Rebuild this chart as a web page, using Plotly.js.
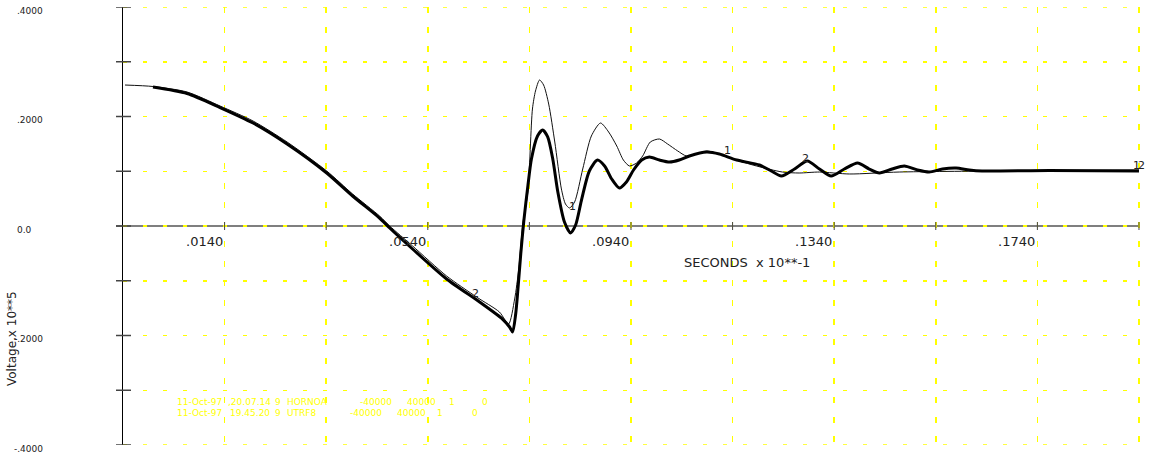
<!DOCTYPE html>
<html>
<head>
<meta charset="utf-8">
<script src="https://cdn.plot.ly/plotly-3.0.1.min.js"></script>
<style>html,body{margin:0;padding:0;background:#fff;}#chart{width:1149px;height:454px;}</style>
</head>
<body>
<div id="chart"></div>
<script>
// ---- data ----
const thinX = [-0.0056, -0.0001, 0.0066, 0.0131, 0.0196, 0.0263, 0.0341, 0.0392, 0.0445, 0.0465,
  0.0510, 0.0577, 0.0636, 0.0681, 0.0699, 0.0711, 0.0719, 0.0727, 0.0737, 0.0746,
  0.0752, 0.0760, 0.0768, 0.0778, 0.0790, 0.0803, 0.0811, 0.0819, 0.0829, 0.0845,
  0.0862, 0.0880, 0.0896, 0.0912, 0.0925, 0.0937, 0.0951, 0.0963, 0.0978, 0.0996,
  0.1012, 0.1032, 0.1049, 0.1069, 0.1089, 0.1114, 0.1140, 0.1187, 0.1238, 0.1271,
  0.1311, 0.1370, 0.1468, 0.1665, 0.1940];
const thinY = [0.2575, 0.2548, 0.2448, 0.2192, 0.1918, 0.1534, 0.1005, 0.0584, 0.0183, 0.0000,
  -0.0365, -0.0913, -0.1297, -0.1571, -0.1790, -0.1333, -0.0785, 0.0037, 0.0621, 0.2137,
  0.2466, 0.2667, 0.2575, 0.2228, 0.1534, 0.0676, 0.0402, 0.0329, 0.0438, 0.1041,
  0.1644, 0.1881, 0.1717, 0.1461, 0.1205, 0.1096, 0.1151, 0.1279, 0.1534, 0.1589,
  0.1498, 0.1370, 0.1279, 0.1315, 0.1370, 0.1315, 0.1224, 0.1096, 0.0986, 0.0968,
  0.0986, 0.0950, 0.0986, 0.1005, 0.1023];
const thickX = [-0.0001, 0.0066, 0.0131, 0.0196, 0.0263, 0.0341, 0.0392, 0.0445, 0.0465, 0.0510,
  0.0577, 0.0642, 0.0687, 0.0701, 0.0707, 0.0713, 0.0717, 0.0723, 0.0729, 0.0737,
  0.0744, 0.0756, 0.0766, 0.0776, 0.0786, 0.0796, 0.0809, 0.0821, 0.0831, 0.0843,
  0.0858, 0.0874, 0.0888, 0.0902, 0.0917, 0.0931, 0.0945, 0.0961, 0.0976, 0.0996,
  0.1016, 0.1035, 0.1055, 0.1089, 0.1114, 0.1148, 0.1193, 0.1216, 0.1236, 0.1262,
  0.1287, 0.1311, 0.1334, 0.1360, 0.1386, 0.1409, 0.1429, 0.1454, 0.1478, 0.1504,
  0.1527, 0.1553, 0.1580, 0.1606, 0.1631, 0.1763, 0.1940];
const thickY = [0.2539, 0.2420, 0.2164, 0.1881, 0.1498, 0.0968, 0.0548, 0.0146, -0.0037, -0.0420,
  -0.0968, -0.1388, -0.1699, -0.1845, -0.1936, -0.1607, -0.1205, -0.0511, 0.0091, 0.0731,
  0.1224, 0.1644, 0.1753, 0.1626, 0.1224, 0.0621, 0.0073, -0.0128, 0.0018, 0.0493,
  0.1005, 0.1205, 0.1096, 0.0858, 0.0694, 0.0804, 0.1023, 0.1205, 0.1260, 0.1205,
  0.1169, 0.1205, 0.1279, 0.1352, 0.1315, 0.1205, 0.1114, 0.1005, 0.0913, 0.1041,
  0.1187, 0.1041, 0.0913, 0.1041, 0.1151, 0.1041, 0.0968, 0.1041, 0.1096, 0.1023,
  0.0986, 0.1041, 0.1059, 0.1023, 0.1005, 0.1014, 0.1005];

const curveLabelText = ['1', '1', '2', '2', '1', '2'];
const curveLabelX = [0.0825, 0.1130, 0.0634, 0.1283, 0.1940, 0.1940];
const curveLabelY = [0.0365, 0.1370, -0.1224, 0.1242, 0.1114, 0.1114];

const xLabelVals = [0.014, 0.054, 0.094, 0.134, 0.174];
const xLabelText = ['.0140', '.0540', '.0940', '.1340', '.1740'];
const yLabelVals = [0.4, 0.2, 0, -0.2, -0.4];
const yLabelText = ['.4000', '.2000', '0.0', '-.2000', '-.4000'];
const yTickVals = [-0.4, -0.3, -0.2, -0.1, 0, 0.1, 0.2, 0.3, 0.4];
const xGridVals = [0.014, 0.034, 0.054, 0.074, 0.094, 0.114, 0.134, 0.154, 0.174, 0.194];

const infoLine1 = ['11-Oct-97', ',20.07.14', '9', 'HORNOA', '-40000', '40000', '1', '0'];
const infoLine2 = ['11-Oct-97', '19.45.20', '9', 'UTRF8', '-40000', '40000', '1', '0'];

const xTitle = 'SECONDS  x 10**-1';
const yTitle = 'Voltage,x 10**5';

// ---- layout helpers ----
const W = 1149, H = 454, ML = 123, MR = 9, MT = 7, MB = 9;
const PW = W - ML - MR, PH = H - MT - MB;
const XR = [-0.006, 0.1942], YR = [-0.4, 0.4];
const pxX = p => (p - ML) / PW;                         // pixel -> paper x
const pxY = p => (MT + PH - p) / PH;                    // pixel -> paper y
const valY = v => (v - YR[0]) / (YR[1] - YR[0]);        // y data -> paper y
const dyPx = d => d * (YR[1] - YR[0]) / PH;             // pixel offset -> y data
const FONT = 'DejaVu Sans, Verdana, sans-serif';
const TXT = '#222';
const labelShift = [0, 0, 0, 0, -2, 3];

const annotations = [];
curveLabelText.forEach((t, i) => annotations.push({
  x: curveLabelX[i], y: curveLabelY[i], xref: 'x', yref: 'y', text: t, showarrow: false,
  xshift: labelShift[i],
  font: {family: FONT, size: 11, color: TXT}, xanchor: 'center', yanchor: 'middle'
}));
xLabelText.forEach((t, i) => annotations.push({
  x: xLabelVals[i], y: pxY(241), xref: 'x', yref: 'paper', text: t, showarrow: false,
  font: {family: FONT, size: 13, color: TXT}, xanchor: 'right', yanchor: 'middle'
}));
yLabelText.forEach((t, i) => annotations.push({
  x: pxX(yLabelVals[i] < 0 ? 11.5 : 15), y: valY(yLabelVals[i]), yshift: -3.5,
  xref: 'paper', yref: 'paper',
  text: t, showarrow: false, font: {family: FONT, size: 9, color: TXT},
  xanchor: 'left', yanchor: 'middle'
}));
annotations.push({
  x: pxX(682), y: pxY(262), xref: 'paper', yref: 'paper', text: xTitle, showarrow: false,
  font: {family: FONT, size: 13, color: TXT}, xanchor: 'left', yanchor: 'middle'
});
annotations.push({
  x: pxX(12), y: pxY(339), xref: 'paper', yref: 'paper', text: yTitle, showarrow: false,
  textangle: -90, font: {family: FONT, size: 12, color: TXT}, xanchor: 'center', yanchor: 'middle'
});
const info1Px = [175, 225.5, 273, 285, 358, 405, 447, 480];
const info2Px = [175, 228, 273, 285, 348, 395, 435, 470];
infoLine1.forEach((t, i) => annotations.push({
  x: pxX(info1Px[i]), y: pxY(401.5), xref: 'paper', yref: 'paper', text: t, showarrow: false,
  font: {family: FONT, size: 9, color: '#ffff00'}, xanchor: 'left', yanchor: 'middle'
}));
infoLine2.forEach((t, i) => annotations.push({
  x: pxX(info2Px[i]), y: pxY(413), xref: 'paper', yref: 'paper', text: t, showarrow: false,
  font: {family: FONT, size: 9, color: '#ffff00'}, xanchor: 'left', yanchor: 'middle'
}));

const shapes = [];
// zero line (under the yellow grid)
shapes.push({type: 'line', layer: 'below', xref: 'paper', yref: 'y',
  x0: pxX(116), x1: 1, y0: 0, y1: 0, line: {color: '#555', width: 1.5}});
// top and bottom dashed grid lines (plotly drops grid lines on the plot edges)
[YR[0], YR[1]].forEach(v => shapes.push({type: 'line', layer: 'below', xref: 'paper', yref: 'y',
  x0: 0, x1: 1, y0: v, y1: v, line: {color: '#ffff00', width: 1.5, dash: '4px,16px'}}));
// y-axis ticks crossing the axis line
yTickVals.forEach(v => shapes.push({type: 'line', xref: 'paper', yref: 'y',
  x0: pxX(116), x1: pxX(131), y0: v, y1: v, line: {color: '#444', width: 1.5}}));
// x ticks on the zero line
xGridVals.forEach(v => shapes.push({type: 'line', xref: 'x', yref: 'y',
  x0: v, x1: v, y0: -dyPx(4), y1: dyPx(4), line: {color: '#444', width: 1}}));

const traces = [
  {x: thinX, y: thinY, type: 'scatter', mode: 'lines',
   line: {color: '#111', width: 1, shape: 'spline', smoothing: 0.7}, hoverinfo: 'skip'},
  {x: thickX, y: thickY, type: 'scatter', mode: 'lines',
   line: {color: '#000', width: 3, shape: 'spline', smoothing: 0.7}, hoverinfo: 'skip'}
];

const layout = {
  width: W, height: H,
  margin: {l: ML, r: MR, t: MT, b: MB, pad: 0},
  paper_bgcolor: '#fff', plot_bgcolor: '#fff',
  showlegend: false,
  xaxis: {range: XR, tickmode: 'array', tickvals: xGridVals, showticklabels: false, ticks: '',
    showgrid: true, gridcolor: '#ffff00', gridwidth: 1.5, griddash: '6px,13.5px',
    zeroline: false, showline: false, fixedrange: true},
  yaxis: {range: YR, tickmode: 'array', tickvals: yTickVals, showticklabels: false, ticks: '',
    showgrid: true, gridcolor: '#ffff00', gridwidth: 1.5, griddash: '4px,16px',
    zeroline: false, showline: true, linecolor: '#000', linewidth: 1.5, fixedrange: true},
  annotations: annotations,
  shapes: shapes
};

Plotly.newPlot('chart', traces, layout, {displayModeBar: false, staticPlot: true});
</script>
</body>
</html>
